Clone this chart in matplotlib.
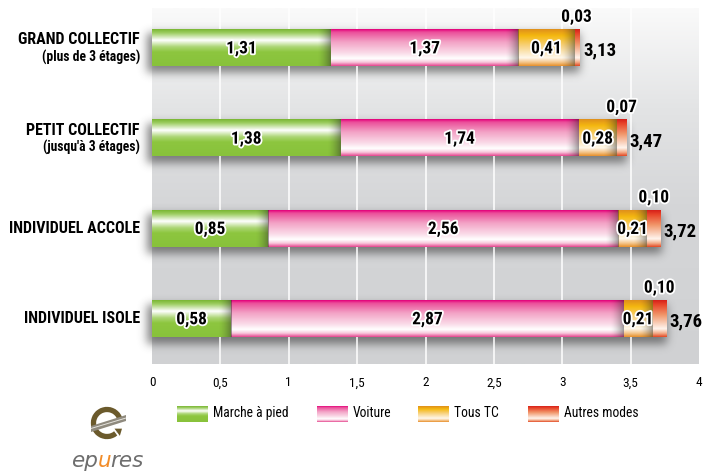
import numpy as np
import matplotlib
matplotlib.use("Agg")
import matplotlib.pyplot as plt
from matplotlib import font_manager
from matplotlib.colors import to_rgb
from matplotlib.patches import Arc, Polygon, FancyArrow
import matplotlib.patheffects as pe

# ---- data -------------------------------------------------------------
categories = ["GRAND COLLECTIF", "PETIT COLLECTIF", "INDIVIDUEL ACCOLE", "INDIVIDUEL ISOLE"]
subtitles = ["(plus de 3 étages)", "(jusqu'à 3 étages)", "", ""]
modes = ["Marche à pied", "Voiture", "Tous TC", "Autres modes"]
marche = [1.31, 1.38, 0.85, 0.58]
voiture = [1.37, 1.74, 2.56, 2.87]
tous_tc = [0.41, 0.28, 0.21, 0.21]
autres = [0.03, 0.07, 0.10, 0.10]
totals = [3.13, 3.47, 3.72, 3.76]
xticks = [0, 0.5, 1, 1.5, 2, 2.5, 3, 3.5, 4]
xtick_labels = ["0", "0,5", "1", "1,5", "2", "2,5", "3", "3,5", "4"]

series = [marche, voiture, tous_tc, autres]

# ---- pick a narrow sans-serif face -----------------------------------------
entries = font_manager.fontManager.ttflist
names = {f.name for f in entries}
FONT = dict(family="Roboto", stretch="normal")
if "Liberation Sans Narrow" in names:
    FONT = dict(family="Liberation Sans Narrow", stretch="normal")
elif "Roboto Condensed" in names:
    FONT = dict(family="Roboto Condensed", stretch="normal")
elif any(f.name == "DejaVu Sans" and str(f.stretch) in ("condensed", "semi-condensed", "75", "87")
         for f in entries):
    FONT = dict(family="DejaVu Sans", stretch="condensed")
elif "Open Sans Condensed" in names:
    FONT = dict(family="Open Sans Condensed", stretch="normal")
elif "Roboto" not in names:
    FONT = dict(family="DejaVu Sans", stretch="normal")

# vertical colour stops (fraction from top, colour) for the tube-like fills
gradients = [
    [(0.0, "#7ab634"), (0.10, "#9ccd60"), (0.30, "#ffffff"), (0.48, "#acd675"),
     (0.62, "#8dc63f"), (1.0, "#88c23b")],
    [(0.0, "#e4007b"), (0.08, "#eb4f9a"), (0.35, "#f3a3c6"), (0.65, "#fadbe8"),
     (0.80, "#ffffff"), (0.90, "#f8c8dc"), (1.0, "#e5468f")],
    [(0.0, "#df8f1c"), (0.18, "#f5b90f"), (0.45, "#f8d27e"), (0.78, "#fff8ec"),
     (0.90, "#f5c68c"), (1.0, "#e7902c")],
    [(0.0, "#d6211a"), (0.12, "#e8452a"), (0.40, "#f1966a"), (0.78, "#fff5ee"),
     (0.90, "#f3ad8a"), (1.0, "#e34a26")],
]


def gradient_column(stops, n=96):
    t = np.linspace(0, 1, n)
    pos = [s[0] for s in stops]
    cols = np.array([to_rgb(s[1]) for s in stops])
    img = np.stack([np.interp(t, pos, cols[:, c]) for c in range(3)], axis=-1)
    return img[:, None, :]


def gauss_blur(a, sigma):
    r = int(3 * sigma)
    k = np.exp(-0.5 * (np.arange(-r, r + 1) / sigma) ** 2)
    k /= k.sum()
    a = np.apply_along_axis(lambda m: np.convolve(m, k, mode="same"), 0, a)
    a = np.apply_along_axis(lambda m: np.convolve(m, k, mode="same"), 1, a)
    return a


def fmt(v):
    return f"{v:.2f}".replace(".", ",")


W, H = 703, 476
fig = plt.figure(figsize=(W / 100, H / 100), dpi=100)
fig.patch.set_facecolor("white")


def fx(px):
    return px / W


def fy(py):
    return 1 - py / H


ax = fig.add_axes([fx(152), fy(364), (699 - 152) / W, (364 - 8) / H])
XLIM = (0, 4)
YLIM = (3.5, -0.443)
ax.set_xlim(*XLIM)
ax.set_ylim(*YLIM)
ax.set_facecolor("none")
for s in ax.spines.values():
    s.set_visible(False)

ypos = np.arange(len(categories))
bar_h = 0.4

# plot-area background: light at the top, grey towards the bottom
bg_stops = [(0.0, "#fafafa"), (0.28, "#e3e4e5"), (0.55, "#d5d6d8"), (1.0, "#d0d1d3")]
ax.imshow(gradient_column(bg_stops, 256), extent=(XLIM[0], XLIM[1], YLIM[0], YLIM[1]),
          aspect="auto", interpolation="bilinear", zorder=0)

# soft drop shadow beneath every bar
p0 = ax.transData.transform((0, 0))
p1 = ax.transData.transform((1, 1))
sx, sy = abs(p1[0] - p0[0]), abs(p1[1] - p0[1])
sx0, sx1 = -0.35, 4.35
nx, ny = int((sx1 - sx0) * sx), int((YLIM[0] - YLIM[1]) * sy)
gx = np.linspace(sx0, sx1, nx)
gy = np.linspace(YLIM[1], YLIM[0], ny)
mask = np.zeros((ny, nx))
ends = np.sum(series, axis=0)
for y, end in zip(ypos, ends):
    cx = (gx >= -5 / sx) & (gx <= end + 1 / sx)
    cy = (gy >= y - bar_h / 2 + 4 / sy) & (gy <= y + bar_h / 2 + 7 / sy)
    mask[np.ix_(cy, cx)] = 1.0
blur = gauss_blur(mask, 4.5)
shadow = np.zeros((ny, nx, 4))
shadow[..., :3] = 0.22
shadow[..., 3] = 0.6 * blur
sh = ax.imshow(shadow, extent=(sx0, sx1, YLIM[0], YLIM[1]), aspect="auto",
               interpolation="bilinear", zorder=1)
sh.set_clip_on(False)

# vertical white grid lines
for t in xticks[1:-1]:
    ax.axvline(t, color="white", lw=1.1, zorder=2)

# stacked gradient segments
halo = [pe.withStroke(linewidth=2.6, foreground="white")]
for i, y in enumerate(ypos):
    left = 0.0
    for k, vals in enumerate(series):
        v = vals[i]
        right = left + v
        ax.imshow(gradient_column(gradients[k]), extent=(left, right, y + bar_h / 2, y - bar_h / 2),
                  aspect="auto", interpolation="bilinear", zorder=3)
        if k < len(series) - 1:
            # darker fold where the next segment begins
            d = min(0.10, v * 0.5)
            shade = np.zeros((1, 32, 4))
            shade[0, :, 3] = np.linspace(0, 1, 32) ** 1.6 * 0.45
            shade[0, :, :3] = 0.15
            ax.imshow(shade, extent=(right - d, right, y + bar_h / 2, y - bar_h / 2),
                      aspect="auto", interpolation="bilinear", zorder=3.5)
            ax.text(left + v / 2, y + 0.01, fmt(v), ha="center", va="center",
                    fontsize=12.5, fontweight="bold", color="black",
                    path_effects=halo, zorder=5, **FONT)
        else:
            ax.text(left + v / 2, y - bar_h / 2 - 0.14, fmt(v), ha="center",
                    va="center", fontsize=12.5, fontweight="bold", color="black",
                    path_effects=halo, zorder=5, clip_on=False, **FONT)
        left = right
    ax.text(totals[i] + 0.022, y + 0.03, fmt(totals[i]), ha="left", va="center",
            fontsize=13.5, fontweight="bold", color="black", zorder=5, clip_on=False, **FONT)

# category labels on the left
lab_x = -12 / sx
for y, name, sub in zip(ypos, categories, subtitles):
    if sub:
        ax.text(lab_x, y - 0.09, name, ha="right", va="center", fontsize=11.5, fontweight="bold",
                clip_on=False, **FONT)
        ax.text(lab_x, y + 0.1, sub, ha="right", va="center", fontsize=9.8, fontweight="bold",
                clip_on=False, **FONT)
    else:
        ax.text(lab_x, y, name, ha="right", va="center", fontsize=11.5, fontweight="bold",
                clip_on=False, **FONT)

ax.set_xticks(xticks)
ax.set_xticklabels(xtick_labels, fontsize=9.5, **FONT)
ax.tick_params(axis="x", length=0, pad=9)
ax.set_yticks([])
ax.set_xlim(*XLIM)
ax.set_ylim(*YLIM)

# legend with gradient swatches
legend_px = [(177, 213), (317, 353), (418, 454), (528, 564)]
for k, (name, (px0, tx)) in enumerate(zip(modes, legend_px)):
    lax = fig.add_axes([fx(px0), fy(422), 31 / W, 16 / H])
    lax.imshow(gradient_column(gradients[k]), aspect="auto", interpolation="bilinear")
    lax.set_axis_off()
    fig.text(fx(tx), fy(413), name, ha="left", va="center", fontsize=9.8, **FONT)

# logo: circular arrow shaped like an "e"
gax = fig.add_axes([fx(84), fy(448), 46 / W, 48 / H])
gax.set_xlim(84, 130)
gax.set_ylim(476 - 448, 476 - 400)
gax.set_axis_off()
cx_, cy_ = 107, 476 - 423
brown = "#6b5a2c"
gax.add_patch(Arc((cx_, cy_), 27, 27, theta1=12, theta2=310, lw=3.8, color=brown))
ang = np.deg2rad(310)
ex, ey = cx_ + 13.5 * np.cos(ang), cy_ + 13.5 * np.sin(ang)
gax.add_patch(FancyArrow(ex - 2, ey - 1.5, 3.5, 2.6, width=0.1, head_width=9, head_length=6,
                         length_includes_head=False, color=brown, lw=0))
gax.add_patch(Polygon([(91, 476 - 432), (126, 476 - 421), (126, 476 - 415), (91, 476 - 426)],
                      closed=True, color="#8f8a7e", lw=0))
gax.add_patch(Polygon([(91, 476 - 429), (126, 476 - 418.5), (126, 476 - 417.5), (91, 476 - 428)],
                      closed=True, color="#e6e4de", lw=0))

renderer = fig.canvas.get_renderer()
x_cur = fx(71)
for piece, col in [("ep", "#6e6e6e"), ("u", "#f28c28"), ("res", "#6e6e6e")]:
    t = fig.text(x_cur, fy(467), piece, ha="left", va="baseline", fontsize=15.5, style="italic",
                 family="DejaVu Sans", color=col)
    bb = t.get_window_extent(renderer)
    x_cur += bb.width / W - 0.6 / W

fig.savefig("out.png", dpi=100, facecolor="white")
